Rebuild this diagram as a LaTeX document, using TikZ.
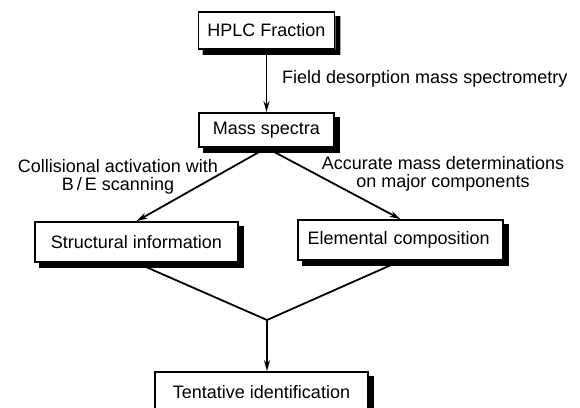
\documentclass[tikz,border=0pt]{standalone}
\usepackage{fontspec}
\setmainfont{Liberation Sans}
\usetikzlibrary{positioning, arrows.meta, calc}
\tikzstyle{box}=[rectangle, draw=black, line width=1.7pt, fill=white, inner sep=0pt]
\tikzstyle{shadowfill}=[fill=black, draw=none]
\tikzstyle{wire}=[line width=1.8pt]
\tikzstyle{flow}=[line width=1.8pt, -{Stealth[length=11pt, width=6pt]}]
\tikzstyle{note}=[align=center, inner sep=0pt]

\begin{document}
\begin{tikzpicture}[x=1pt, y=-1pt, font=\fontsize{18}{18.5}\selectfont]
    \useasboundingbox (0,0) rectangle (580,407);

    % Boites
    \node[box, minimum width=136pt, minimum height=37pt] (hplc) at (266.5,30.5) {HPLC Fraction};
    \node[box, minimum width=135pt, minimum height=34pt] (mass) at (266.5,130) {Mass spectra};
    \node[box, minimum width=203pt, minimum height=40pt] (struct) at (136.5,242) {Structural information};
    \node[box, minimum width=205pt, minimum height=40pt, text width=186pt] (elem) at (400.5,240) {Elemental composition};
    \node[box, minimum width=213pt, minimum height=40pt] (tent) at (261.5,392) {Tentative identification};

    % Ombres
    \foreach \n in {hplc, mass, struct, elem, tent}
        \fill[shadowfill] ($(\n.south west)+(5,0)$) -- ($(\n.south west)+(5,5)$)
            -- ($(\n.south east)+(5,5)$) -- ($(\n.north east)+(5,5)$)
            -- ($(\n.north east)+(0,5)$) -- (\n.south east) -- cycle;

    % Etiquettes
    \node[note, anchor=west] (fd) at (282,79) {Field desorption mass spectrometry};
    \node[note] (ca) at (118,177) {Collisional activation with\\B\,/\,E scanning};
    \node[note] (am) at (443,174) {Accurate mass determinations\\on major components};

    % Connexions
    \coordinate (join) at (267,320);
    \draw[flow] (hplc.south) -- (mass.north);
    \draw[flow] (mass.south) -- (struct.north);
    \draw[flow] (mass.south) -- (elem.north);
    \draw[wire] (struct.south) -- (join) -- (elem.south);
    \draw[flow] (join) -- (join |- tent.north);
\end{tikzpicture}
\end{document}
